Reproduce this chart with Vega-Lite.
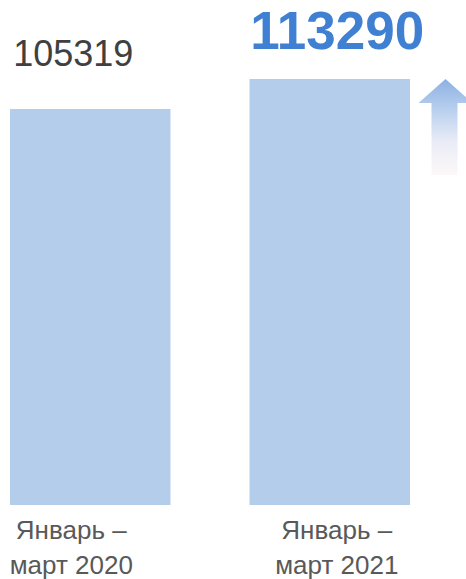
{
  "$schema": "https://vega.github.io/schema/vega-lite/v6.json",
  "width": 420,
  "height": 505,
  "autosize": {"type": "none"},
  "padding": {"left": 0, "top": 0, "right": 46, "bottom": 74},
  "background": "#ffffff",
  "config": {"view": {"stroke": null}, "font": "Liberation Sans"},
  "data": {
    "values": [
      {"period": "Январь – март 2020", "value": 105319},
      {"period": "Январь – март 2021", "value": 113290}
    ]
  },
  "encoding": {
    "x": {
      "field": "period",
      "type": "nominal",
      "sort": null,
      "scale": {"paddingInner": 0.33, "paddingOuter": 0.0418},
      "axis": {
        "title": null,
        "domain": false,
        "ticks": false,
        "tickSize": 0,
        "labelAngle": 0,
        "labelPadding": 12,
        "labelFont": "Liberation Sans",
        "labelFontSize": 26,
        "labelColor": "#595959",
        "labelLineHeight": 35,
        "labelExpr": "[slice(datum.label, 0, 8), slice(datum.label, 9)]",
        "labelOffset": {"condition": {"test": "indexof(datum.value, '2020') >= 0", "value": -19}, "value": 7}
      }
    },
    "y": {
      "field": "value",
      "type": "quantitative",
      "scale": {"domain": [0, 134301], "nice": false, "zero": true},
      "axis": null
    }
  },
  "layer": [
    {"mark": {"type": "bar", "color": "#b4cdeb"}},
    {
      "transform": [{"filter": "indexof(datum.period, '2020') >= 0"}],
      "mark": {
        "type": "text",
        "font": "Liberation Sans",
        "fontSize": 36,
        "color": "#404040",
        "align": "center",
        "baseline": "alphabetic",
        "dx": -17,
        "dy": -43
      },
      "encoding": {"text": {"field": "value", "type": "quantitative", "format": "d"}}
    },
    {
      "transform": [{"filter": "indexof(datum.period, '2021') >= 0"}],
      "mark": {
        "type": "text",
        "font": "Liberation Sans",
        "fontSize": 53,
        "fontWeight": "bold",
        "color": "#3f80d2",
        "align": "center",
        "baseline": "alphabetic",
        "dx": 7.5,
        "dy": -30
      },
      "encoding": {"text": {"field": "value", "type": "quantitative", "format": "d"}}
    },
    {
      "transform": [{"filter": "indexof(datum.period, '2021') >= 0"}],
      "mark": {
        "type": "point",
        "filled": true,
        "size": 9409,
        "opacity": 1,
        "strokeWidth": 0,
        "shape": "M2.387,0 L2.944,0.495 L2.634,0.495 L2.634,1.979 L2.098,1.979 L2.098,0.495 L1.830,0.495 Z",
        "fill": {
          "gradient": "linear",
          "x1": 0, "y1": 0, "x2": 0, "y2": 1,
          "stops": [
            {"offset": 0, "color": "#8cb1e3"},
            {"offset": 0.35, "color": "#bdd2ef"},
            {"offset": 0.65, "color": "#e9ecf6"},
            {"offset": 1, "color": "#fdf8f8"}
          ]
        }
      }
    }
  ]
}
